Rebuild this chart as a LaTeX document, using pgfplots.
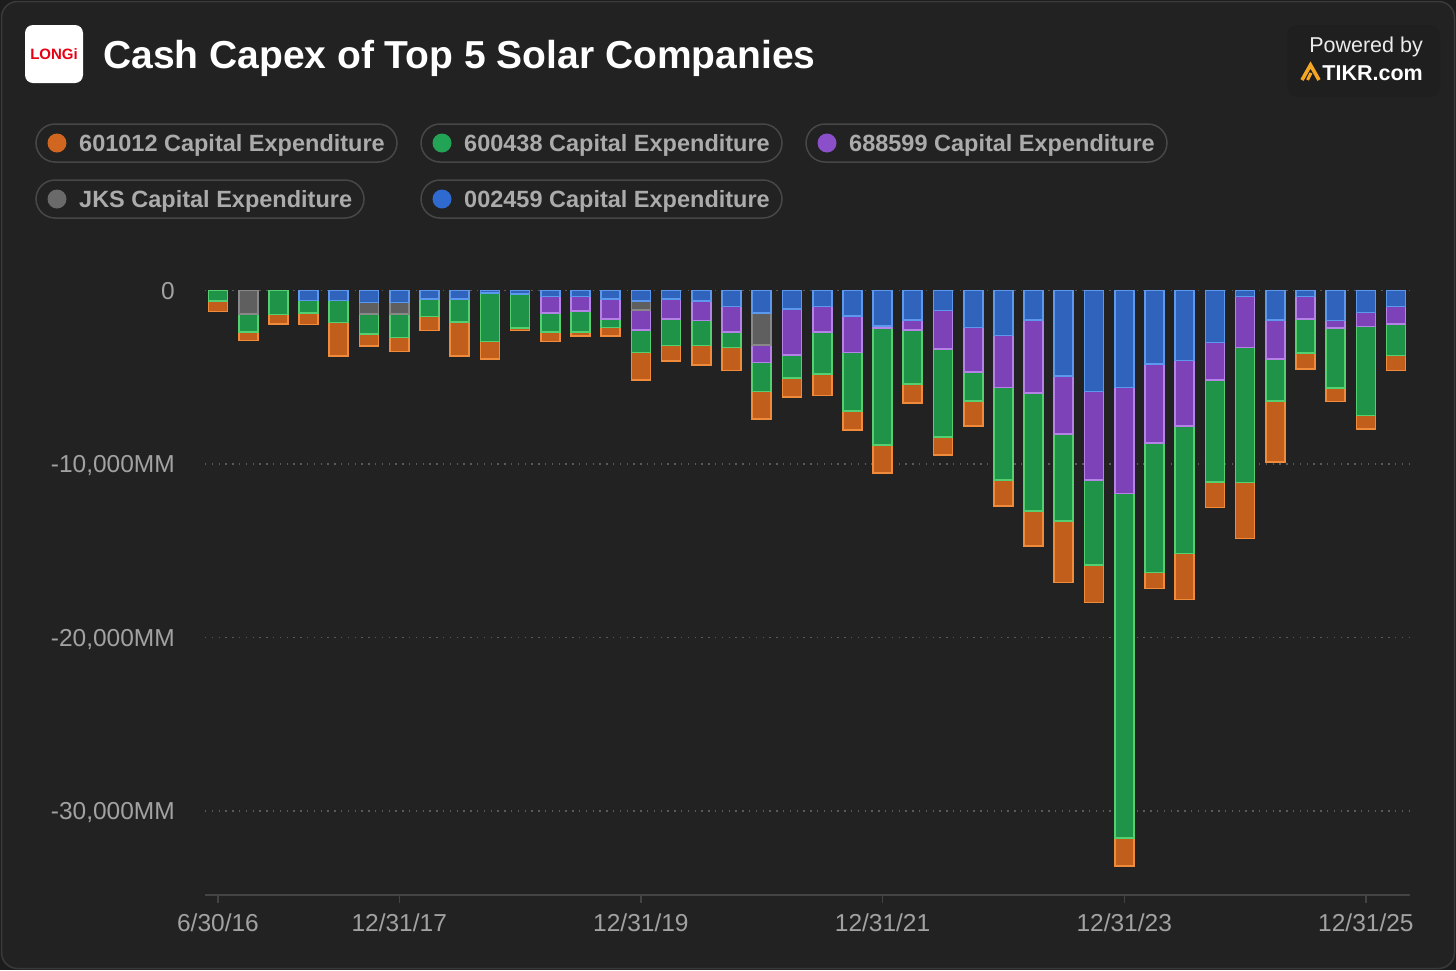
\documentclass[border=0pt]{standalone}
\usepackage{pgfplots}
\usepackage{pgfplotstable}
\pgfplotsset{compat=1.18}
\usepackage{fontspec}
\setmainfont{Liberation Sans}
\definecolor{outerbg}{HTML}{1C1C1C}
\definecolor{cardbg}{HTML}{222222}
\definecolor{boxbg}{HTML}{1F1F1F}
\definecolor{cardborder}{HTML}{3A3A3A}
\definecolor{pillborder}{HTML}{474747}
\definecolor{legtext}{HTML}{ABABAB}
\definecolor{ticktext}{HTML}{A2A2A2}
\definecolor{gridc}{HTML}{5A5A5A}
\definecolor{axisc}{HTML}{444444}
\definecolor{corange}{HTML}{C15E1C}
\definecolor{corangeb}{HTML}{F08B3C}
\definecolor{cgreen}{HTML}{1F9448}
\definecolor{cgreenb}{HTML}{55D070}
\definecolor{cpurple}{HTML}{7E42B8}
\definecolor{cpurpleb}{HTML}{B583E6}
\definecolor{cblue}{HTML}{2F63BC}
\definecolor{cblueb}{HTML}{5C98EE}
\definecolor{cgray}{HTML}{5F5F5F}
\definecolor{cgrayb}{HTML}{888888}
\definecolor{dorange}{HTML}{D0661F}
\definecolor{dgreen}{HTML}{22A356}
\definecolor{dpurple}{HTML}{8B4FC9}
\definecolor{dgray}{HTML}{6A6A6A}
\definecolor{dblue}{HTML}{2F6AD0}
\definecolor{longired}{HTML}{E60012}
\definecolor{tikrorange}{HTML}{F5A623}

\pgfplotstableread{
i blue gray purple green orange
0 0 0 0 -595 -614
1 0 -1344 0 -1056 -480
2 0 0 0 -1382 -557
3 -576 0 0 -730 -653
4 -576 0 0 -1267 -1920
5 -691 -672 0 -1133 -691
6 -691 -672 0 -1344 -806
7 -480 0 0 -1018 -806
8 -480 0 0 -1344 -1939
9 -154 0 0 -2784 -1018
10 -192 0 0 -1978 -134
11 -346 0 -960 -1094 -538
12 -346 0 -826 -1229 -211
13 -480 0 -1152 -499 -480
14 -595 -518 -1152 -1306 -1574
15 -480 0 -1152 -1536 -883
16 -595 0 -1133 -1440 -1114
17 -922 0 -1478 -883 -1325
18 -1306 -1824 -1018 -1670 -1574
19 -1058 0 -2654 -1346 -1096
20 -923 0 -1481 -2423 -1231
21 -1462 0 -2115 -3365 -1096
22 -2038 0 -135 -6731 -1596
23 -1692 0 -577 -3115 -1115
24 -1154 0 -2231 -5077 -1019
25 -2135 0 -2577 -1654 -1442
26 -2596 0 -3000 -5327 -1481
27 -1692 0 -4231 -6769 -2038
28 -4923 0 -3346 -5000 -3558
29 -5827 0 -5096 -4904 -2154
30 -5596 0 -6096 -19880 -1600
31 -4250 0 -4558 -7442 -923
32 -4038 0 -3769 -7346 -2654
33 -3000 0 -2154 -5865 -1481
34 -346 0 -2942 -7769 -3231
35 -1692 0 -2250 -2423 -3500
36 -346 0 -1288 -1981 -904
37 -1731 0 -442 -3462 -769
38 -1269 0 -808 -5135 -769
39 -923 0 -1019 -1808 -865
}\capex

\begin{document}
\begin{tikzpicture}
% background card
\fill[outerbg] (0pt,0pt) rectangle (1456pt,-970pt);
\filldraw[fill=cardbg, draw=cardborder, line width=1.5pt, rounded corners=16pt] (1.5pt,-1.5pt) rectangle (1454.5pt,-968.5pt);

% logo
\fill[white, rounded corners=8pt] (25pt,-25pt) rectangle (83pt,-83pt);
\node[text=longired, font=\bfseries\fontsize{15pt}{16pt}\selectfont, inner sep=0pt] at (54pt,-54pt) {LONGi};

% title
\node[anchor=base west, text=white, font=\bfseries\fontsize{39pt}{44pt}\selectfont, inner sep=0pt] at (103pt,-68pt) {Cash Capex of Top 5 Solar Companies};

% powered by
\fill[boxbg, rounded corners=10pt] (1287pt,-25pt) rectangle (1440pt,-97pt);
\node[anchor=base east, text=white!92!black, font=\fontsize{21.5pt}{24pt}\selectfont, inner sep=0pt] at (1423pt,-52pt) {Powered by};
\node[anchor=base east, text=white, font=\bfseries\fontsize{21.5pt}{24pt}\selectfont, inner sep=0pt] at (1423pt,-80pt) {TIKR.com};
\draw[tikrorange, line width=3.6pt, line join=miter, line cap=butt] (1302pt,-80pt) -- (1310.5pt,-65pt) -- (1319pt,-80pt);
\draw[tikrorange, line width=3pt] (1307.5pt,-80pt) -- (1311pt,-73pt);

% legend pills
\tikzset{pill/.style={draw=pillborder, line width=1.5pt, rounded corners=19pt},
  legt/.style={anchor=base west, text=legtext, font=\bfseries\fontsize{23.5pt}{26pt}\selectfont, inner sep=0pt}}
\draw[pill] (36pt,-124pt) rectangle (397pt,-162pt);
\draw[pill] (421pt,-124pt) rectangle (782pt,-162pt);
\draw[pill] (806pt,-124pt) rectangle (1167pt,-162pt);
\draw[pill] (36pt,-180pt) rectangle (364pt,-218pt);
\draw[pill] (421pt,-180pt) rectangle (782pt,-218pt);
\fill[dorange] (57pt,-143pt) circle (9.5pt);
\fill[dgreen] (442pt,-143pt) circle (9.5pt);
\fill[dpurple] (827pt,-143pt) circle (9.5pt);
\fill[dgray] (57pt,-199pt) circle (9.5pt);
\fill[dblue] (442pt,-199pt) circle (9.5pt);
\node[legt] at (79pt,-151.5pt) {601012 Capital Expenditure};
\node[legt] at (464pt,-151.5pt) {600438 Capital Expenditure};
\node[legt] at (849pt,-151.5pt) {688599 Capital Expenditure};
\node[legt] at (79pt,-207.5pt) {JKS Capital Expenditure};
\node[legt] at (464pt,-207.5pt) {002459 Capital Expenditure};

\begin{axis}[
  at={(205pt,-895pt)}, anchor=south west,
  scale only axis, width=1205pt, height=604.5pt,
  xmin=-0.43, xmax=39.46, ymin=-34840, ymax=0,
  clip=false,
  ybar stacked, bar width=19pt,
  axis x line*=bottom, axis y line*=left,
  x axis line style={draw=axisc, line width=2pt, -},
  y axis line style={draw=none},
  xtick={0,6,14,22,30,38},
  xticklabels={6/30/16,12/31/17,12/31/19,12/31/21,12/31/23,12/31/25},
  ytick={-30000,-20000,-10000,0},
  yticklabels={{-30,000MM},{-20,000MM},{-10,000MM},{0}},
  scaled y ticks=false,
  xtick align=outside, ytick align=inside,
  major tick length=8pt,
  xtick style={draw=axisc, line width=1.2pt},
  ytick style={draw=none},
  ymajorgrids, xmajorgrids=false,
  major grid style={draw=gridc, line width=1.2pt, dash pattern=on 1.3pt off 5.5pt},
  ticklabel style={font=\fontsize{24.5pt}{28pt}\selectfont, text=ticktext},
  yticklabel style={anchor=base east, inner sep=0pt, xshift=-30pt, yshift=-8.7pt},
  xticklabel style={anchor=base, inner sep=0pt, yshift=-28pt},
]
\addplot[fill=cblue, draw=cblueb, line width=1.7pt] table[x=i, y=blue] {\capex};
\addplot[fill=cgray, draw=cgrayb, line width=1.7pt] table[x=i, y=gray] {\capex};
\addplot[fill=cpurple, draw=cpurpleb, line width=1.7pt] table[x=i, y=purple] {\capex};
\addplot[fill=cgreen, draw=cgreenb, line width=1.7pt] table[x=i, y=green] {\capex};
\addplot[fill=corange, draw=corangeb, line width=1.7pt] table[x=i, y=orange] {\capex};
\end{axis}
\end{tikzpicture}
\end{document}
